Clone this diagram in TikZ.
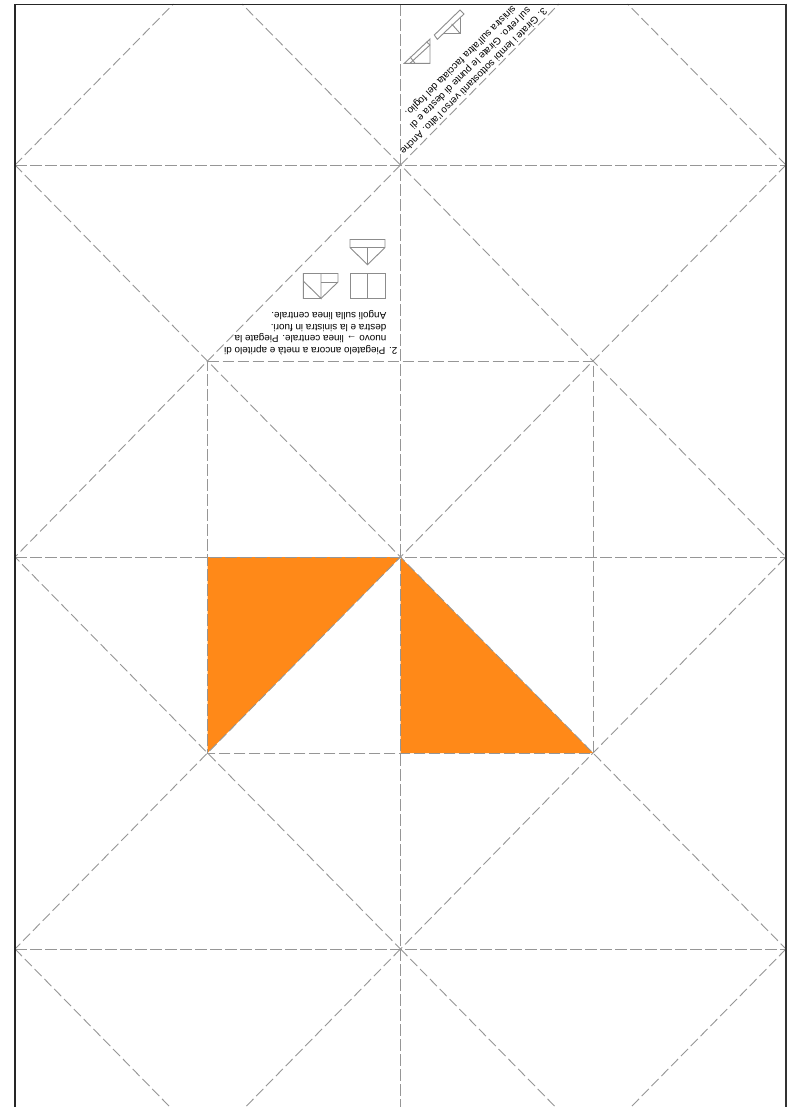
\documentclass[tikz,border=0pt]{standalone}
\usepackage{fontspec}
\setmainfont{Liberation Sans}
\definecolor{foldgray}{RGB}{150,150,150}
\definecolor{iconGray}{RGB}{140,140,140}
\definecolor{fillorange}{RGB}{255,137,24}
\tikzset{
  fold/.style={draw=foldgray,line width=1bp,dash pattern=on 11.5bp off 3.5bp},
  diag/.style={draw=foldgray,line width=0.9bp,dash pattern=on 10bp off 4bp},
  icon/.style={draw=iconGray,line width=0.9bp,line join=miter},
  frameline/.style={draw=black!85,line width=1.4bp},
  frameright/.style={draw=black!80,line width=2bp},
  note/.style={font=\fontsize{9.9bp}{11.7bp}\selectfont,align=left,inner sep=0pt},
}
\begin{document}
\begin{tikzpicture}[x=1bp,y=-1bp]
\useasboundingbox (0,0) rectangle (791,1107);
\fill[white] (0,0) rectangle (791,1107);
\coordinate (a1) at (15,165);\coordinate (a2) at (400.5,165);\coordinate (a3) at (786,165);
\coordinate (b1) at (207.5,361);\coordinate (b2) at (593,361);
\coordinate (c1) at (15,557);\coordinate (c2) at (400.5,557);\coordinate (c3) at (786,557);
\coordinate (d1) at (207.5,753);\coordinate (d2) at (400.5,753);\coordinate (d3) at (593,753);
\coordinate (e1) at (15,949);\coordinate (e2) at (400.5,949);\coordinate (e3) at (786,949);
\fill[fillorange] (d1) -- (c2) -- (207.5,557) -- cycle;
\fill[fillorange] (c2) -- (d3) -- (d2) -- cycle;
\draw[fold] (a1) -- (a3);
\draw[fold] (c1) -- (c3);
\draw[fold] (e1) -- (e3);
\draw[fold] (400.5,4) -- (400.5,1107);
\draw[fold] (b1) -- (b2) -- (d3) -- (d1) -- cycle;
\draw[diag] (a1) -- (173.4,4);
\draw[diag] (a2) -- (242,4);
\draw[diag] (a2) -- (559,4);
\draw[diag] (a3) -- (627.6,4);
\draw[diag] (a1) -- (b1) -- (c2) -- (d3) -- (e3);
\draw[diag] (a3) -- (b2) -- (c2) -- (d1) -- (e1);
\draw[diag] (a2) -- (b1) -- (c1) -- (d1) -- (e2) -- (d3) -- (c3) -- (b2) -- cycle;
\draw[diag] (e1) -- (170,1107);
\draw[diag] (e2) -- (245.5,1107);
\draw[diag] (e2) -- (555.5,1107);
\draw[diag] (e3) -- (631,1107);
\draw[frameline] (15,1107) -- (15,4.3) -- (786,4.3);
\draw[frameright] (785.5,3.6) -- (785.5,1107);
\node[note,rotate=180,anchor=north west] (step2) at (397.5,355) {2. Piegatelo ancora a metà e apritelo di\\\hspace*{11bp}nuovo → linea centrale. Piegate la\\\hspace*{11bp}destra e la sinistra in fuori.\\\hspace*{11bp}Angoli sulla linea centrale.};
\node[note,rotate=225,anchor=north west] (step3) at (548.5,12.5) {3. Girate i lembi sottostanti verso l'alto. Anche\\\hspace*{11bp}sul retro. Girate le punte di destra e di\\\hspace*{20bp}sinistra sull'altra facciata del foglio.};
\draw[icon] (350,273.5) rectangle (385,298);
\draw[icon] (367.5,273.5) -- (367.5,298);
\draw[icon] (350,239.5) -- (385,239.5) -- (385,247.5) -- (367.5,264.7) -- (350,247.5) -- cycle;
\draw[icon] (350,247.5) -- (385,247.5);
\draw[icon] (367.5,247.5) -- (367.5,264.7);
\draw[icon] (303.3,273.5) -- (338,273.5) -- (338,282) -- (321,298.5) -- (303.3,298.5) -- cycle;
\draw[icon] (303.3,281) -- (321,298.5) -- (321,273.5);
\draw[icon] (321,282) -- (338,282);
\draw[icon] (404.3,63.3) -- (430,63.3) -- (430,39) -- cycle;
\draw[icon] (410,63.3) -- (430,45) (426.7,42) -- (430,45) (410,56.7) -- (415,63.3);
\draw[icon] (434.3,35) -- (460,10) -- (464,14) -- (437.3,39.3) -- cycle;
\draw[icon] (443,33.3) -- (460,33.3) -- (460,17);
\draw[icon] (451.7,24) -- (460,33.3);
\end{tikzpicture}
\end{document}
